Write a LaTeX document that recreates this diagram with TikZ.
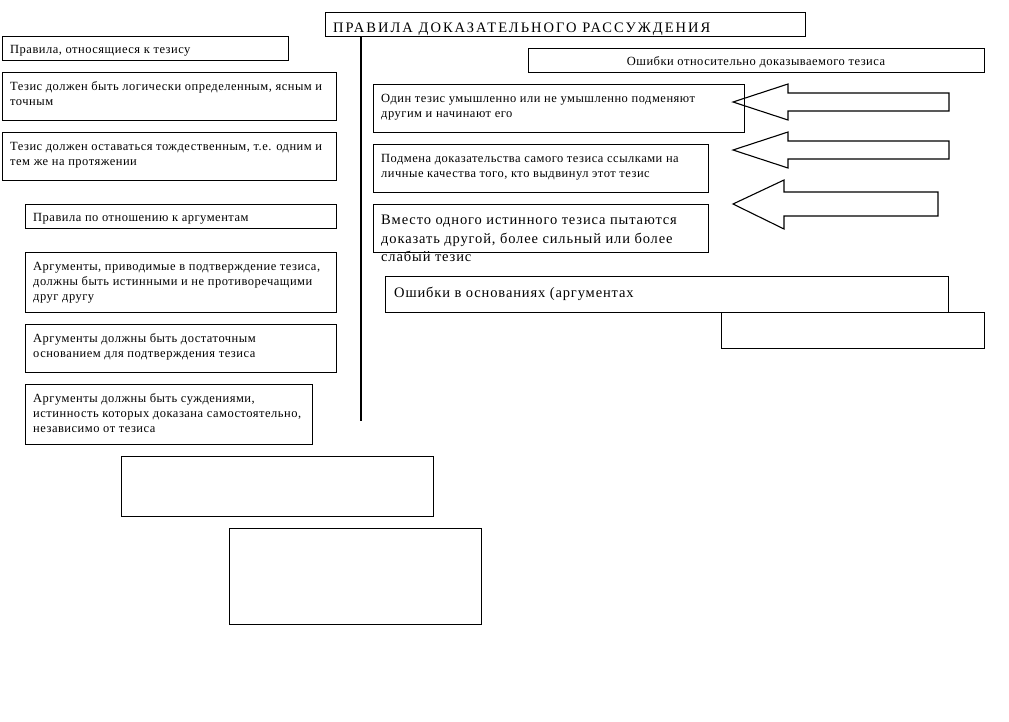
\documentclass[tikz,border=0pt]{standalone}
\usepackage{fontspec}
\setmainfont{Liberation Serif}
\newfontfamily\smallfnt[LetterSpace=4]{Liberation Serif}
\newfontfamily\bigfnt[LetterSpace=6]{Liberation Serif}
\newfontfamily\titlefnt[LetterSpace=14]{Liberation Serif}
\begin{document}
\begin{tikzpicture}[x=1pt,y=-1pt,
  box/.style={draw, line width=1.1pt, inner sep=0pt, anchor=north west},
  stxt/.style={inner sep=0pt, anchor=north west, align=left, font=\smallfnt\fontsize{12.5}{15}\selectfont},
  btxt/.style={inner sep=0pt, anchor=north west, align=left, font=\bigfnt\fontsize{14.5}{18.5}\selectfont},
  ttxt/.style={inner sep=0pt, anchor=north west, align=left, font=\titlefnt\fontsize{14.5}{17}\selectfont},
  blockarrow/.style={draw, line width=1.1pt, line join=miter}]
\useasboundingbox (0,0) rectangle (1009,721);

% title and vertical rule
\node[box, minimum width=480, minimum height=24] (title) at (325,12) {};
\node[ttxt] (titlet) at (333,20.5) {\strut ПРАВИЛА ДОКАЗАТЕЛЬНОГО РАССУЖДЕНИЯ};
\coordinate (vend) at (361,421);
\draw[line width=1.1pt] (vend |- title.south) -- (vend);

% left column
\node[box, minimum width=286, minimum height=24] (b1) at (2,36) {};
\node[stxt] (b1t) at (10,42.5) {\strut Правила, относящиеся к тезису};

\node[box, minimum width=334, minimum height=48] (b2) at (2,72) {};
\node[stxt] (b2t) at (10,79.5) {\strut Тезис должен быть логически определенным, ясным и\\точным};

\node[box, minimum width=334, minimum height=48] (b3) at (2,132) {};
\node[stxt] (b3t) at (10,139.5) {\strut Тезис должен оставаться тождественным, т.е. одним и\\тем же на протяжении};

\node[box, minimum width=311, minimum height=24] (b4) at (25,204) {};
\node[stxt] (b4t) at (33,210.5) {\strut Правила по отношению к аргументам};

\node[box, minimum width=311, minimum height=60] (b5) at (25,252) {};
\node[stxt] (b5t) at (33,259.5) {\strut Аргументы, приводимые в подтверждение тезиса,\\должны быть истинными и не противоречащими\\друг другу};

\node[box, minimum width=311, minimum height=48] (b6) at (25,324) {};
\node[stxt] (b6t) at (33,331.5) {\strut Аргументы должны быть достаточным\\основанием для подтверждения тезиса};

\node[box, minimum width=287, minimum height=60] (b7) at (25,384) {};
\node[stxt] (b7t) at (33,391.5) {\strut Аргументы должны быть суждениями,\\истинность которых доказана самостоятельно,\\независимо от тезиса};

\node[box, minimum width=312, minimum height=60] (e1) at (121,456) {};
\node[box, minimum width=252, minimum height=96] (e2) at (229,528) {};

% right column
\node[box, minimum width=456, minimum height=24] (r0) at (528,48) {};
\node[stxt, anchor=north] (r0t) at (756,54.5) {\strut Ошибки относительно доказываемого тезиса};

\node[box, minimum width=371, minimum height=48] (r1) at (373,84) {};
\node[stxt] (r1t) at (381,91.5) {\strut Один тезис умышленно или не умышленно подменяют\\другим и начинают его};

\node[box, minimum width=335, minimum height=48] (r2) at (373,144) {};
\node[stxt] (r2t) at (381,151.5) {\strut Подмена доказательства самого тезиса ссылками на\\личные качества того, кто выдвинул этот тезис};

\node[box, minimum width=335, minimum height=48] (r3) at (373,204) {};
\node[btxt] (r3t) at (381,211.6) {\strut Вместо одного истинного тезиса пытаются\\доказать другой, более сильный или более\\слабый тезис};

\node[box, minimum width=563, minimum height=36] (r4) at (385,276) {};
\node[btxt] (r4t) at (394,284.6) {\strut Ошибки в основаниях (аргументах};

\node[box, minimum width=263, minimum height=36] (r5) at (721,312) {};

% block arrows
\draw[blockarrow] (733,102) -- (788,84) -- (788,93) -- (949,93) -- (949,111) -- (788,111) -- (788,120) -- cycle;
\draw[blockarrow] (733,150) -- (788,132) -- (788,141) -- (949,141) -- (949,159) -- (788,159) -- (788,168) -- cycle;
\draw[blockarrow] (733,204) -- (784,180) -- (784,192) -- (938,192) -- (938,216) -- (784,216) -- (784,229) -- cycle;
\end{tikzpicture}
\end{document}
